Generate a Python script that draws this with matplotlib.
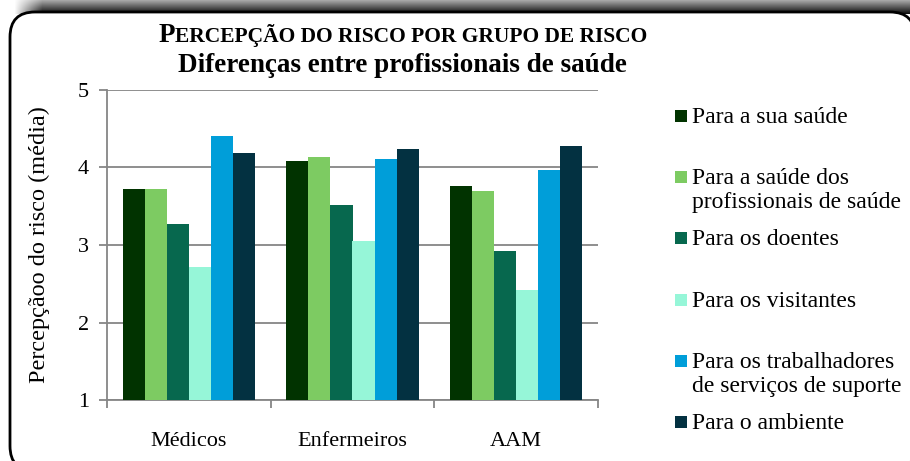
import numpy as np
import matplotlib.pyplot as plt
from matplotlib.patches import FancyBboxPatch, Rectangle
from matplotlib.transforms import IdentityTransform

plt.rcParams['font.family'] = ['Liberation Serif', 'DejaVu Serif']

grupos = ["Médicos", "Enfermeiros", "AAM"]
series = ["Para a sua saúde",
          "Para a saúde dos\nprofissionais de saúde",
          "Para os doentes",
          "Para os visitantes",
          "Para os trabalhadores\nde serviços de suporte",
          "Para o ambiente"]
sua_saude = [3.72, 4.08, 3.76]
saude_prof = [3.72, 4.13, 3.70]
doentes = [3.27, 3.51, 2.92]
visitantes = [2.71, 3.05, 2.42]
trabalhadores = [4.40, 4.11, 3.97]
ambiente = [4.19, 4.24, 4.28]
valores = [sua_saude, saude_prof, doentes, visitantes, trabalhadores, ambiente]
cores = ["#013300", "#7dcb62", "#07684e", "#96f6d8", "#009ed9", "#033141"]
cinza = "#868686"

W, H = 910, 461
fig = plt.figure(figsize=(W / 100, H / 100), dpi=100)
fig.patch.set_facecolor("white")
ident = IdentityTransform()

# sombra no topo da moldura (gradiente)
nl = 14
yy = np.linspace(0.35, 0.95, nl)[:, None]
xx = np.clip((np.arange(W) - 14) / 28.0, 0, 1)[None, :]
rgba = np.zeros((nl, W, 4))
rgba[..., 3] = yy * xx
ax_sh = fig.add_axes([0, (H - nl) / H, 1, nl / H], zorder=-3)
ax_sh.imshow(rgba, aspect="auto", interpolation="bilinear")
ax_sh.set_axis_off()

# moldura arredondada
frame = FancyBboxPatch((10, -10), 905, H - 12 + 10,
                       boxstyle="round,pad=0,rounding_size=25",
                       transform=ident, facecolor="white", edgecolor="black",
                       linewidth=2, zorder=-2)
fig.add_artist(frame)

ax = fig.add_axes([107 / W, 61 / H, 491 / W, 310 / H])
x = np.arange(len(grupos))
larg = 0.135
for i, (vals, cor) in enumerate(zip(valores, cores)):
    ax.bar(x + (i - 2.5) * larg, vals, larg, color=cor, zorder=3)

ax.set_xlim(-0.5, 2.5)
ax.set_ylim(1, 5)
ax.set_yticks([1, 2, 3, 4, 5])
ax.yaxis.grid(True, color=cinza, linewidth=1.3, zorder=0)
ax.set_axisbelow(True)
for s in ["top", "right"]:
    ax.spines[s].set_visible(False)
for s in ["left", "bottom"]:
    ax.spines[s].set_color(cinza)
    ax.spines[s].set_linewidth(1.3)
ax.set_xticks(x)
ax.set_xticklabels(grupos, fontsize=16)
ax.set_xticks([-0.5, 0.5, 1.5, 2.5], minor=True)
ax.tick_params(axis="x", which="major", length=0, pad=23)
ax.tick_params(axis="x", which="minor", length=6, color=cinza, width=1.3)
ax.tick_params(axis="y", length=6, color=cinza, width=1.3, pad=7, labelsize=16)
ax.set_ylabel("Percepçãoo do risco (média)", fontsize=17.5)
ax.yaxis.set_label_coords(-0.137, 0.5)
ax.yaxis.label.set_va("center")

# legenda manual
for i, (lab, cor) in enumerate(zip(series, cores)):
    yc = H - (116 + 61.2 * i)
    fig.add_artist(Rectangle((675, yc - 6), 12, 12, transform=ident,
                             facecolor=cor, edgecolor="none"))
    fig.text(692, yc + 9, lab, transform=ident, fontsize=17,
             va="top", ha="left", linespacing=1.2)

# titulo (versaletes)
r = fig.canvas.get_renderer()
pecas = [("P", 19.5), ("ERCEPÇÃO DO RISCO POR GRUPO DE RISCO", 15.5)]
objs = []
for txt, fs in pecas:
    objs.append(fig.text(0, H - 42, txt, transform=ident, fontsize=fs,
                         fontweight="bold", va="baseline", ha="left"))
larguras = [t.get_window_extent(renderer=r).width for t in objs]
x0 = 403 - sum(larguras) / 2
for t, w in zip(objs, larguras):
    t.set_x(x0)
    x0 += w
fig.text(402, H - 72, "Diferenças entre profissionais de saúde", transform=ident,
         fontsize=19.5, fontweight="bold", ha="center", va="baseline")

fig.savefig("out.png", dpi=100)
